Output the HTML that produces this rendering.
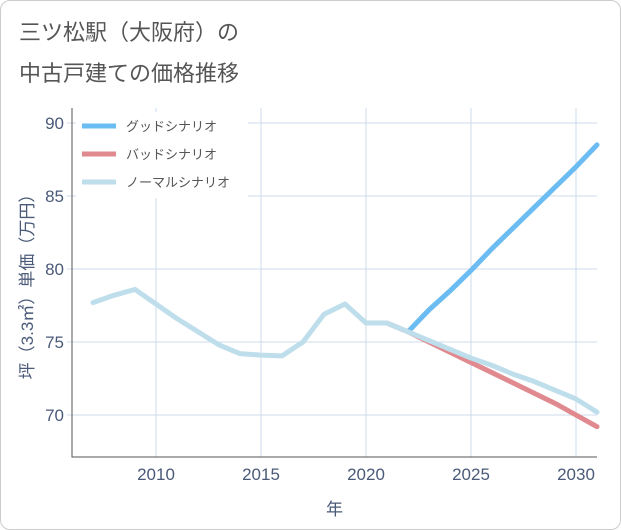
<!DOCTYPE html>
<html><head><meta charset="utf-8"><style>
body{margin:0;background:#fff;font-family:"Liberation Sans","Noto Sans CJK JP",sans-serif;}
#wrap{position:relative;width:619px;height:528px;border:1px solid #ccc;border-radius:10px;overflow:hidden;}
.title{position:absolute;left:18px;font-size:22px;color:#555;}
</style></head><body>
<div id="wrap">
<div class="title" style="top:14px">三ツ松駅（大阪府）の</div>
<div class="title" style="top:55px">中古戸建ての価格推移</div>
<svg id="chart" width="621" height="530" style="position:absolute;left:-1px;top:-1px"></svg>
</div>
<script>
const normalYears=[2007,2008,2009,2010,2011,2012,2013,2014,2015,2016,2017,2018,2019,2020,2021,2022,2023,2024,2025,2026,2027,2028,2029,2030,2031];
const normalVals=[77.7,78.2,78.6,77.6,76.6,75.7,74.8,74.2,74.1,74.05,75.0,76.9,77.6,76.3,76.3,75.7,75.1,74.5,73.9,73.4,72.8,72.3,71.7,71.1,70.2];
const goodYears=[2022,2023,2024,2025,2026,2027,2028,2029,2030,2031];
const goodVals=[75.7,77.2,78.5,79.9,81.4,82.8,84.2,85.6,87.0,88.5];
const badYears=[2021,2022,2023,2024,2025,2026,2027,2028,2029,2030,2031];
const badVals=[76.3,75.7,75.0,74.3,73.6,72.9,72.2,71.5,70.8,70.0,69.2];
const xTicks=[2010,2015,2020,2025,2030];
const yTicks=[70,75,80,85,90];
const legendLabels=["グッドシナリオ","バッドシナリオ","ノーマルシナリオ"];
const legendColors=["#6bbcf2","#e08a8f","#bfdeec"];

const NS="http://www.w3.org/2000/svg";
const svg=document.getElementById('chart');
const L=72,R=597,T=108,B=457;
const TXT='#4a5a78';
const x=v=>156+(v-2010)*21;
const y=v=>269-(v-80)*14.6;
function mk(t,a){const e=document.createElementNS(NS,t);for(const k in a)e.setAttribute(k,a[k]);svg.appendChild(e);return e;}
xTicks.forEach(t=>{
 const g=mk('line',{x1:x(t),x2:x(t),y1:T,y2:B,stroke:'#cddbe8','stroke-width':1});
 
 
 const tx=mk('text',{x:x(t),y:B+23,'text-anchor':'middle','font-size':17,fill:TXT});
 tx.textContent=t;
 
 
});
yTicks.forEach(t=>{
 const g=mk('line',{x1:L-5,x2:R,y1:y(t),y2:y(t),stroke:'#cddbe8','stroke-width':1});
 
 
 const tx=mk('text',{x:L-8,y:y(t)+6,'text-anchor':'end','font-size':17,fill:TXT});
 tx.textContent=t;
 
 
});
const ax=mk('path',{d:`M${L} ${T}V${B}H${R}`,stroke:'#555',fill:'none','stroke-width':1});


const lb=mk('rect',{x:76,y:112,width:172,height:86,fill:'#fff'});


function line(xs,vs,c,name){
 const p=mk('polyline',{points:xs.map((t,i)=>x(t)+','+y(vs[i])).join(' '),fill:'none',stroke:c,'stroke-width':5,'stroke-linejoin':'round','stroke-linecap':'round'});
 
 
}
line(goodYears,goodVals,legendColors[0],'good-scenario-line');
line(badYears,badVals,legendColors[1],'bad-scenario-line');
line(normalYears,normalVals,legendColors[2],'normal-scenario-line');
legendLabels.forEach((s,i)=>{
 const yy=126+i*28;
 const l=mk('line',{x1:82,x2:116,y1:yy,y2:yy,stroke:legendColors[i],'stroke-width':5});
 
 
 const tx=mk('text',{x:126,y:yy+5,'font-size':13,fill:'#555'});
 tx.textContent=s;
 
 
});
const xt=mk('text',{x:(L+R)/2,y:515,'text-anchor':'middle','font-size':17,fill:TXT});
xt.textContent='年';


const yt=mk('text',{x:0,y:0,'text-anchor':'middle','font-size':17,fill:TXT,transform:`translate(33,${(T+B)/2}) rotate(-90)`});
yt.textContent='坪（3.3㎡）単価（万円）';


</script>
</body></html>
